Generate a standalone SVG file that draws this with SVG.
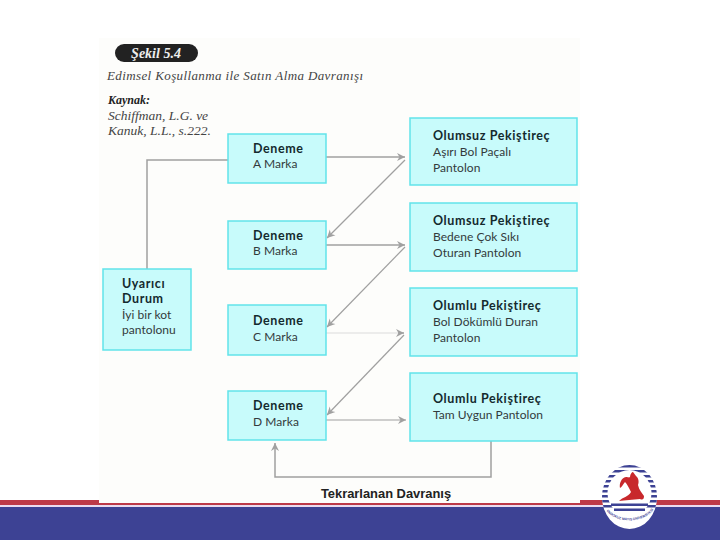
<svg xmlns="http://www.w3.org/2000/svg" width="720" height="540" viewBox="0 0 720 540">
<defs>
<marker id="ah" markerUnits="userSpaceOnUse" markerWidth="10" markerHeight="10" refX="8" refY="5" orient="auto"><path d="M0 1 L8 5 L0 9 L2.5 5 Z" fill="#a0a0a0"/></marker>
<clipPath id="lc"><ellipse cx="629.5" cy="497" rx="27.5" ry="32"/></clipPath>
<path id="arc" d="M606 510C615 524 644 524 654 509"/>
</defs>
<style>
.box{fill:#c8fbfb;stroke:#62e3ea;stroke-width:1.5}
.t{font-family:"Lato","Open Sans",sans-serif;font-size:12px;letter-spacing:.05px;fill:#333a3c}
.b{font-family:"Lato","Open Sans",sans-serif;font-size:12.5px;font-weight:700;letter-spacing:.6px;fill:#142a2e}
.s{font-family:"Liberation Serif",serif;font-style:italic;font-size:13.5px;fill:#444}
.c{fill:none;stroke:#a0a0a0;stroke-width:1.5}
</style>
<rect width="720" height="540" fill="#fff"/>
<rect x="0" y="500" width="720" height="5" fill="#bd3a48"/>
<rect x="0" y="505" width="720" height="2" fill="#eadcf0"/>
<rect x="0" y="507" width="720" height="33" fill="#3d4294"/>
<rect x="99" y="38" width="481" height="465" fill="#fdfdfb"/>
<g id="heading">
<rect x="115" y="44" width="83" height="18" rx="9" fill="#222"/>
<text x="156" y="58" text-anchor="middle" font-family="Liberation Serif,serif" font-weight="700" font-style="italic" font-size="14" fill="#eee">Şekil 5.4</text>
<text x="107" y="80" font-family="Liberation Serif,serif" font-style="italic" font-size="13" fill="#444" textLength="256">Edimsel Koşullanma ile Satın Alma  Davranışı</text>
<text x="108" y="104" font-family="Liberation Serif,serif" font-weight="700" font-style="italic" font-size="12" fill="#222">Kaynak:</text>
<text x="108" y="120" class="s">Schiffman, L.G. ve</text>
<text x="108" y="135" class="s">Kanuk, L.L., s.222.</text>
</g>
<g id="connectors">
<path class="c" d="M147 269V160H228"/>
<path class="c" d="M326 157H405" marker-end="url(#ah)"/>
<path class="c" style="stroke-width:1.2" d="M405 160L327 238" marker-end="url(#ah)"/>
<path class="c" d="M326 245H405" marker-end="url(#ah)"/>
<path class="c" style="stroke-width:1.2" d="M405 247L327 327" marker-end="url(#ah)"/>
<path class="c" style="stroke:#e6e6e6" d="M326 333H400"/>
<path class="c" d="M398 333H404" marker-end="url(#ah)"/>
<path class="c" style="stroke-width:1.2" d="M404 335L327 415" marker-end="url(#ah)"/>
<path class="c" style="stroke-width:1.2" d="M326 420H406" marker-end="url(#ah)"/>
<path class="c" d="M491 441V477H275V443" marker-end="url(#ah)"/>
</g>
<g id="uyarici"><rect class="box" x="103" y="269" width="88" height="81"/>
<text class="b" x="122" y="288">Uyarıcı</text><text class="b" x="122" y="303">Durum</text><text class="t" x="122" y="319">İyi bir kot</text><text class="t" x="122" y="334">pantolonu</text></g>
<g id="a"><rect class="box" x="228" y="134" width="98" height="49"/><text class="b" x="253" y="153">Deneme</text><text class="t" x="253" y="168">A Marka</text></g>
<g id="b"><rect class="box" x="228" y="221" width="98" height="48"/><text class="b" x="253" y="240">Deneme</text><text class="t" x="253" y="255">B Marka</text></g>
<g id="c"><rect class="box" x="228" y="305" width="98" height="50"/><text class="b" x="253" y="325">Deneme</text><text class="t" x="253" y="341">C Marka</text></g>
<g id="d"><rect class="box" x="228" y="391" width="98" height="49"/><text class="b" x="253" y="410">Deneme</text><text class="t" x="253" y="426">D Marka</text></g>
<g id="o1"><rect class="box" x="410" y="118" width="167" height="67"/><text class="b" x="433" y="140">Olumsuz Pekiştireç</text><text class="t" x="433" y="156">Aşırı Bol Paçalı</text><text class="t" x="433" y="172">Pantolon</text></g>
<g id="o2"><rect class="box" x="410" y="203" width="167" height="68"/><text class="b" x="433" y="225">Olumsuz Pekiştireç</text><text class="t" x="433" y="241">Bedene Çok Sıkı</text><text class="t" x="433" y="257">Oturan Pantolon</text></g>
<g id="o3"><rect class="box" x="410" y="288" width="167" height="68"/><text class="b" x="433" y="310">Olumlu Pekiştireç</text><text class="t" x="433" y="326">Bol Dökümlü Duran</text><text class="t" x="433" y="342">Pantolon</text></g>
<g id="o4"><rect class="box" x="410" y="373" width="167" height="68"/><text class="b" x="433" y="403">Olumlu Pekiştireç</text><text class="t" x="433" y="419">Tam Uygun Pantolon</text></g>
<text id="label" x="386" y="498" text-anchor="middle" font-family="Liberation Sans,sans-serif" font-weight="700" font-size="12.9" fill="#222">Tekrarlanan Davranış</text>
<g id="logo">
<ellipse cx="629.5" cy="497" rx="27.5" ry="32" fill="#fff"/>
<g clip-path="url(#lc)" fill="#3d4294">
<path d="M602 465h55v2.5h-55zM602 470h55v2.5h-55zM602 475h55v2.5h-55zM602 480h55v2.5h-55zM602 485h55v2.5h-55zM602 490h55v2.5h-55zM602 495h55v2.5h-55zM602 500h55v2.5h-55zM602 505h55v2.5h-55z"/>
</g>
<ellipse cx="629.5" cy="493" rx="22" ry="23" fill="#fff"/>
<path d="M611 503.500H648V506H611ZM614 508.500H645V511H614Z" fill="#3d4294"/>
<path d="M619 501C623 497 628 497 631 492C629 488 627 484 625 482C623 484 622 487 620 488C619 484 621 478 626 477C628 477 629 478 630 477C630 474 632 472 633 472L636 476C639 478 639 483 638 485C639 490 642 493 644 496C644 500 642 500 640 499C633 500 625 500 619 501Z" fill="#c8282c"/>
<text font-family="Liberation Sans,sans-serif" font-weight="700" font-size="3.4" fill="#3d4294"><textPath href="#arc" startOffset="50%" text-anchor="middle">ONDOKUZ MAYIS ÜNİVERSİTESİ</textPath></text>
</g>
</svg>
